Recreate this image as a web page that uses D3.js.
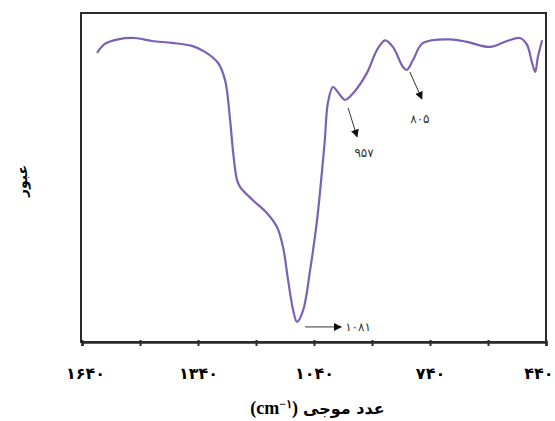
<!DOCTYPE html>
<html>
<head>
<meta charset="utf-8">
<script src="https://cdn.jsdelivr.net/npm/d3@7"></script>
<style>
  body { margin: 0; background: #fff; }
  svg { display: block; }
</style>
</head>
<body>
<div id="chart"></div>
<script>
// wavenumber (cm-1) and transmittance (%)
const wavenumber = [1601, 1581, 1547, 1503, 1459, 1407, 1356, 1322, 1288, 1270, 1257, 1249, 1239, 1231,
  1198, 1162, 1136, 1120, 1107, 1094, 1084, 1068, 1050, 1032, 1019, 1012, 1004, 991, 978, 960,
  939, 903, 877, 856, 836, 810, 800, 784, 758, 688, 644, 585, 541, 507, 489, 476, 468, 461, 450];
const transmittance = [87.9, 90.6, 92.0, 92.4, 91.5, 90.9, 90.0, 88.2, 84.8, 79.6, 67.5, 57.5, 49.2, 47.1,
  43.1, 39.2, 35.0, 28.8, 18.8, 9.7, 6.1, 9.7, 21.9, 37.1, 52.3, 61.4, 72.7, 77.5, 75.9, 73.6,
  75.6, 81.8, 88.8, 91.7, 89.7, 83.6, 82.7, 85.7, 90.9, 92.0, 91.2, 89.7, 91.5, 92.4, 90.3, 84.8, 82.1, 86.6, 91.7];

const tickValues = [1640, 1490, 1340, 1190, 1040, 890, 740, 590, 440];
const peakWaves = [1081, 957, 805];

const toFa = s => String(s).replace(/\d/g, d => "۰۱۲۳۴۵۶۷۸۹"[d]);

const margin = { top: 13, right: 9, bottom: 79, left: 82 },
  width = 555 - margin.left - margin.right,
  height = 421 - margin.top - margin.bottom;

const data = wavenumber.map((w, i) => ({ w: w, t: transmittance[i] }));

const root = d3.select("#chart")
  .append("svg")
  .attr("width", 555)
  .attr("height", 421);

const defs = root.append("defs");
defs.append("marker")
  .attr("id", "head")
  .attr("viewBox", "0 0 10 10")
  .attr("refX", 9)
  .attr("refY", 5)
  .attr("markerWidth", 8)
  .attr("markerHeight", 8)
  .attr("markerUnits", "userSpaceOnUse")
  .attr("orient", "auto")
  .append("path")
  .attr("d", "M0,0 L10,5 L0,10 Z")
  .attr("fill", "#111");

const svg = root.append("g")
  .attr("transform", `translate(${margin.left},${margin.top})`);

const x = d3.scaleLinear()
  .domain([1640, 440])
  .range([0, width]);

const y = d3.scaleLinear()
  .domain([0, 100])
  .range([height, 0]);

// frame
svg.append("rect")
  .attr("x", -1)
  .attr("y", 0)
  .attr("width", width + 1)
  .attr("height", height)
  .attr("fill", "none")
  .attr("stroke", "#2a2a2a")
  .attr("stroke-width", 2);

const xAxis = svg.append("g")
  .attr("transform", `translate(0,${height})`)
  .call(d3.axisBottom(x)
    .tickValues(tickValues)
    .tickSize(4)
    .tickPadding(22)
    .tickFormat((d, i) => i % 2 === 0 ? toFa(d) : ""));

xAxis.select(".domain").attr("stroke", "#2a2a2a").attr("stroke-width", 2.5);
xAxis.selectAll(".tick line").attr("stroke", "#2a2a2a").attr("stroke-width", 2).attr("y1", -2);
xAxis.selectAll(".tick text")
  .attr("fill", "#000")
  .style("font-family", "DejaVu Sans")
  .style("font-weight", "bold")
  .style("font-size", "16px");
xAxis.selectAll(".tick text")
  .filter(d => d === 1640)
  .attr("dx", 3);
xAxis.selectAll(".tick text")
  .filter(d => d === 440)
  .attr("text-anchor", "end")
  .attr("dx", 7);

const line = d3.line()
  .x(d => x(d.w))
  .y(d => y(d.t))
  .curve(d3.curveCatmullRom.alpha(0.5));

svg.append("path")
  .datum(data)
  .attr("fill", "none")
  .attr("stroke", "#7b60b6")
  .attr("stroke-width", 2.2)
  .attr("stroke-linejoin", "round")
  .attr("d", line);

// peak annotations
const annoOffsets = [
  { x1: 7, y1: 5, x2: 43, y2: 5, lx: 47, ly: 5, anchor: "start" },
  { x1: 2, y1: 8, x2: 11, y2: 37, lx: 18, ly: 53, anchor: "middle" },
  { x1: 5, y1: 5, x2: 17, y2: 32, lx: 15, ly: 52, anchor: "middle" }
];

peakWaves.forEach((w, i) => {
  const p = d3.least(data, d => Math.abs(d.w - w));
  const px = x(w), py = y(p.t), o = annoOffsets[i];
  svg.append("line")
    .attr("x1", px + o.x1).attr("y1", py + o.y1)
    .attr("x2", px + o.x2).attr("y2", py + o.y2)
    .attr("stroke", "#333")
    .attr("stroke-width", 1)
    .attr("marker-end", "url(#head)");
  svg.append("text")
    .attr("x", px + o.lx)
    .attr("y", py + o.ly)
    .attr("dy", "0.35em")
    .attr("text-anchor", o.anchor)
    .attr("fill", "#333")
    .style("font-family", "DejaVu Sans")
    .style("font-size", "12px")
    .text(toFa(w));
});

// axis titles
root.append("text")
  .attr("transform", "translate(22,181) rotate(-90)")
  .attr("text-anchor", "middle")
  .attr("dy", "0.35em")
  .style("font-family", "DejaVu Sans")
  .style("font-weight", "bold")
  .style("font-size", "14px")
  .text("عبور");

root.append("text")
  .attr("x", 303)
  .attr("y", 414)
  .attr("text-anchor", "start")
  .style("font-family", "DejaVu Sans")
  .style("font-weight", "bold")
  .style("font-size", "16px")
  .text("عدد موجی");

const unit = root.append("text")
  .attr("x", 298)
  .attr("y", 414)
  .attr("text-anchor", "end")
  .style("font-family", "Liberation Serif")
  .style("font-weight", "bold")
  .style("font-size", "18px");
unit.append("tspan").text("(cm");
unit.append("tspan").attr("dy", -6).style("font-size", "12px").text("−۱");
unit.append("tspan").attr("dy", 6).text(")");
</script>
</body>
</html>
